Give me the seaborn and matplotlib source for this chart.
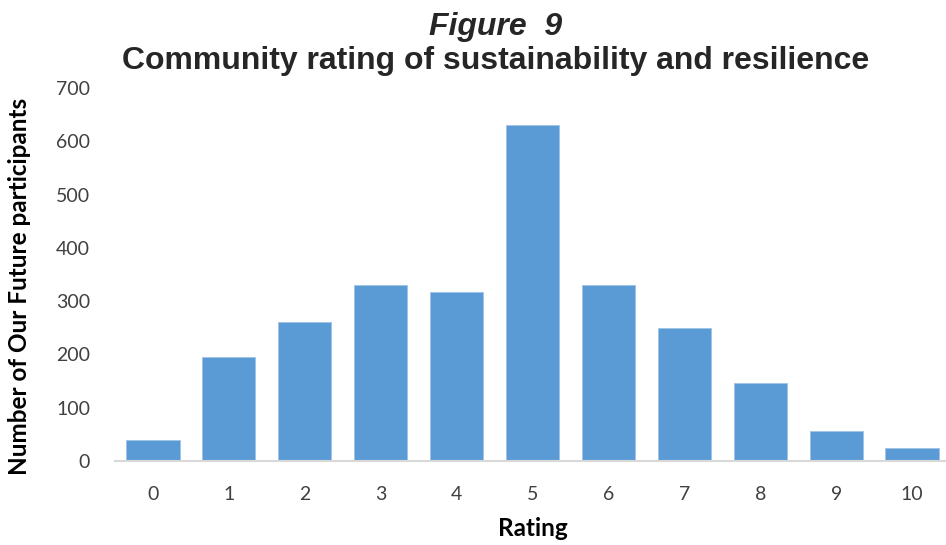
import matplotlib
matplotlib.use("Agg")
import matplotlib.pyplot as plt
import seaborn as sns
import pandas as pd

ratings = ["0", "1", "2", "3", "4", "5", "6", "7", "8", "9", "10"]
participants = [39, 195, 260, 330, 317, 630, 330, 250, 146, 57, 24]
y_ticks = [0, 100, 200, 300, 400, 500, 600, 700]

df = pd.DataFrame({"Rating": ratings, "Participants": participants})

sns.set_style("white")
plt.rcParams["font.family"] = ["Lato", "DejaVu Sans"]

fig = plt.figure(figsize=(9.46, 5.45), dpi=100)
ax = fig.add_axes([115 / 946, 84 / 545, 835 / 946, 373 / 545])

sns.barplot(data=df, x="Rating", y="Participants", order=ratings,
            color="#5B9BD5", saturation=1, width=0.7, ax=ax,
            edgecolor="#9DC3E6", linewidth=0.6)

ax.set_xlim(-0.5, len(ratings) - 0.5)
ax.set_ylim(0, 700)
ax.set_yticks(y_ticks)
ax.set_yticklabels([str(t) for t in y_ticks])

for s in ["top", "right", "left"]:
    ax.spines[s].set_visible(False)
ax.spines["bottom"].set_color("#D9D9D9")
ax.spines["bottom"].set_linewidth(1.5)
ax.tick_params(axis="both", length=0, labelsize=14, colors="#404040")
ax.tick_params(axis="x", pad=18)
ax.tick_params(axis="y", pad=18)

ax.set_xlabel("Rating", fontsize=17.5, fontweight="bold", color="black", labelpad=10)
ax.set_ylabel("Number of Our Future participants", fontsize=17.5,
              fontweight="bold", color="black")
ax.yaxis.set_label_coords(-0.1, 0.468)

fig.text(496 / 946, 1 - 27 / 545, "Figure  9", ha="center", va="center",
         fontsize=23, fontweight="bold", style="italic",
         family=["Liberation Sans", "DejaVu Sans"], color="#262626")
fig.text(496 / 946, 1 - 61 / 545, "Community rating of sustainability and resilience",
         ha="center", va="center", fontsize=23, fontweight="bold",
         family=["Liberation Sans", "DejaVu Sans"], color="#262626")

fig.savefig("out.png", dpi=100)
